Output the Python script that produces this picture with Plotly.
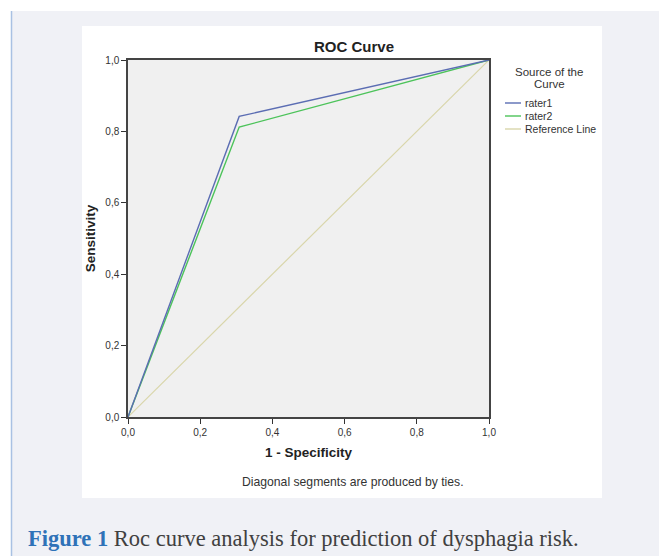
import plotly.graph_objects as go

# ---- data ----
rater1_fpr = [0.0, 0.308, 1.0]
rater1_tpr = [0.0, 0.842, 1.0]
rater2_fpr = [0.0, 0.308, 1.0]
rater2_tpr = [0.0, 0.812, 1.0]
ref_x = [0.0, 1.0]
ref_y = [0.0, 1.0]
tick_vals = [0.0, 0.2, 0.4, 0.6, 0.8, 1.0]
tick_text = ["0,0", "0,2", "0,4", "0,6", "0,8", "1,0"]
legend_names = ["rater1", "rater2", "Reference Line"]
legend_colors = ["#5b6db3", "#4cc35a", "#d9d6ab"]
legend_title_lines = ["Source of the", "Curve"]

# page offset of the plot div (default body margin)
OX, OY = 8, 8
W, H = 667 - OX, 556 - OY
# plot area in screen pixels
L, R, T, B = 128, 489, 60, 417


def px(x):
    return (x - L) / (R - L)


def py(y):
    return (B - y) / (B - T)


fig = go.Figure()
fig.add_trace(go.Scatter(x=ref_x, y=ref_y, mode="lines",
                         line=dict(color=legend_colors[2], width=1.2), name=legend_names[2]))
fig.add_trace(go.Scatter(x=rater2_fpr, y=rater2_tpr, mode="lines",
                         line=dict(color=legend_colors[1], width=1.4), name=legend_names[1]))
fig.add_trace(go.Scatter(x=rater1_fpr, y=rater1_tpr, mode="lines",
                         line=dict(color=legend_colors[0], width=1.4), name=legend_names[0]))

shapes = [
    # outer page box
    dict(type="rect", xref="paper", yref="paper", x0=px(11), x1=px(700), y0=py(600), y1=py(11),
         fillcolor="#f0f1f6", line=dict(width=0), layer="below"),
    dict(type="line", xref="paper", yref="paper", x0=px(11.5), x1=px(11.5), y0=py(600), y1=py(11),
         line=dict(color="#a9c1e3", width=1.5), layer="below"),
    # white chart panel
    dict(type="rect", xref="paper", yref="paper", x0=px(82), x1=px(602), y0=py(498), y1=py(26),
         fillcolor="#ffffff", line=dict(width=0), layer="below"),
    # plot area background
    dict(type="rect", xref="paper", yref="paper", x0=0, x1=1, y0=0, y1=1,
         fillcolor="#f0f0f0", line=dict(width=0), layer="below"),
]

annotations = [
    dict(text="<b>ROC Curve</b>", x=px(354), y=py(47), xref="paper", yref="paper",
         showarrow=False, font=dict(family="Liberation Sans", size=15, color="#222"),
         xanchor="center", yanchor="middle"),
    dict(text="Diagonal segments are produced by ties.", x=px(353), y=py(482), xref="paper", yref="paper",
         showarrow=False, font=dict(family="Liberation Sans", size=12.2, color="#333"),
         xanchor="center", yanchor="middle"),
    dict(text="<b><span style='color:#2f72b8'>Figure 1</span></b> Roc curve analysis for prediction of dysphagia risk.",
         x=px(26), y=py(538), xref="paper", yref="paper",
         showarrow=False, font=dict(family="Liberation Serif", size=22.5, color="#404040"),
         xanchor="left", yanchor="middle"),
]

for line_text, ty in zip(legend_title_lines, [72, 83.5]):
    annotations.append(dict(text=line_text, x=px(549), y=py(ty), xref="paper", yref="paper",
                            showarrow=False, font=dict(family="Liberation Sans", size=11.5, color="#333"),
                            xanchor="center", yanchor="middle"))

legend_y = [103, 116, 129]
for name, color, ly in zip(legend_names, legend_colors, legend_y):
    shapes.append(dict(type="line", xref="paper", yref="paper", x0=px(505), x1=px(521),
                       y0=py(ly), y1=py(ly), line=dict(color=color, width=1.4)))
    annotations.append(dict(text=name, x=px(523), y=py(ly), xref="paper", yref="paper",
                            showarrow=False, font=dict(family="Liberation Sans", size=10.5, color="#333"),
                            xanchor="left", yanchor="middle"))

axis_common = dict(range=[0, 1], tickvals=tick_vals, ticktext=tick_text, ticks="outside",
                   ticklen=5, tickcolor="#333", tickwidth=1.2, showgrid=False, zeroline=False,
                   showline=True, linecolor="#444", linewidth=1.5, mirror=True,
                   tickfont=dict(family="Liberation Sans", size=10, color="#333"), fixedrange=True)

fig.update_layout(
    width=W, height=H,
    margin=dict(l=L - OX, r=W - (R - OX), t=T - OY, b=H - (B - OY), pad=0),
    paper_bgcolor="#ffffff",
    plot_bgcolor="rgba(0,0,0,0)",
    showlegend=False,
    shapes=shapes,
    annotations=annotations,
    xaxis=dict(**axis_common,
               title=dict(text="<b>1 - Specificity</b>", standoff=11,
                          font=dict(family="Liberation Sans", size=13.5, color="#222"))),
    yaxis=dict(**axis_common,
               title=dict(text="<b>Sensitivity</b>", standoff=7,
                          font=dict(family="Liberation Sans", size=13.5, color="#222"))),
)

fig.write_html("out.html")
